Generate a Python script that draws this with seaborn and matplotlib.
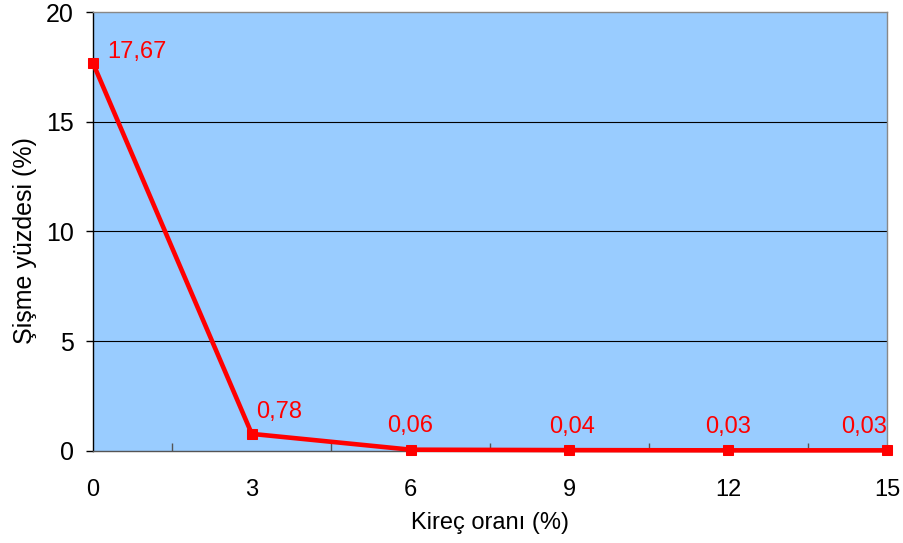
import matplotlib
matplotlib.use("Agg")
import matplotlib.pyplot as plt
import seaborn as sns
import pandas as pd
from matplotlib.ticker import MultipleLocator

lime = [0, 3, 6, 9, 12, 15]
swell = [17.67, 0.78, 0.06, 0.04, 0.03, 0.03]
labels = ["17,67", "0,78", "0,06", "0,04", "0,03", "0,03"]
xlabel = "Kireç oranı (%)"
ylabel = "Şişme yüzdesi (%)"

df = pd.DataFrame({"x": lime, "y": swell})

sns.set_style("white")
plt.rcParams['font.family'] = ['Liberation Sans', 'DejaVu Sans']
plt.rcParams['text.color'] = 'black'
plt.rcParams['axes.labelcolor'] = 'black'
plt.rcParams['xtick.color'] = 'black'
plt.rcParams['ytick.color'] = 'black'

fig = plt.figure(figsize=(9.04, 5.43), dpi=100)
ax = fig.add_axes([93/904, 1 - 451/543, (887-93)/904, (451-12)/543])
ax.set_facecolor("#99CCFF")

sns.lineplot(data=df, x="x", y="y", ax=ax, color="#FF0000", linewidth=3.3,
             marker="s", markersize=7, markeredgecolor="#FF0000", zorder=5,
             clip_on=False)

ax.set_xlim(0, 15)
ax.set_ylim(0, 20)
ax.xaxis.set_major_locator(MultipleLocator(3))
ax.xaxis.set_minor_locator(MultipleLocator(1.5))
ax.yaxis.set_major_locator(MultipleLocator(5))
ax.grid(False)
for yv in [5, 10, 15]:
    ax.axhline(yv, color="black", linewidth=0.8, zorder=1)

ax.tick_params(axis="x", which="major", direction="out", length=6, width=1,
               color="#555555", labelcolor="black", labelsize=17, pad=14)
ax.tick_params(axis="x", which="minor", direction="in", length=6, width=1,
               color="#555555", bottom=True)
ax.tick_params(axis="y", which="major", direction="out", length=5, width=1,
               color="black", labelcolor="black", labelsize=18, pad=9, left=True)

for s in ["top", "right"]:
    ax.spines[s].set_color("#888888")
    ax.spines[s].set_linewidth(1)
ax.spines["left"].set_color("black")
ax.spines["bottom"].set_color("#555555")
ax.spines["left"].set_linewidth(1)
ax.spines["bottom"].set_linewidth(1)

ax.set_xlabel(xlabel, fontsize=17, labelpad=8, color="black")
ax.set_ylabel(ylabel, fontsize=18, color="black", va="center")
ax.yaxis.set_label_coords(-0.086, 0.48)

offsets = [(10, 8, "left"), (3, 16, "left"), (0, 17, "center"),
           (2, 17, "center"), (0, 17, "center"), (0, 17, "right")]
for xv, yv, lab, (dx, dy, ha) in zip(lime, swell, labels, offsets):
    ax.annotate(lab, (xv, yv), xytext=(dx, dy), textcoords="offset points",
                ha=ha, va="center", color="#FF0000", fontsize=17, zorder=6,
                annotation_clip=False)

fig.savefig("out.png", dpi=100)
